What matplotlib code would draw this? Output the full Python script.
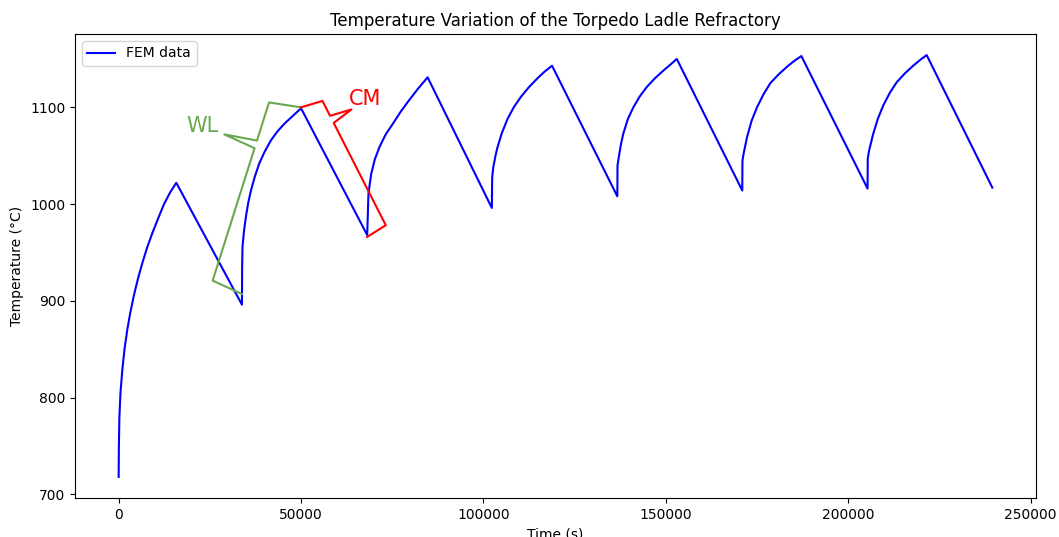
import numpy as np
import matplotlib
matplotlib.use("Agg")
import matplotlib.pyplot as plt

# heating phases (time in s, temperature in degC);
# cooling runs straight from each peak to the start of the next heating phase
heat_time = [
    [0, 60, 200, 500, 990, 1600, 2360, 3200, 4200, 5300, 6480, 7800,
     9230, 10800, 12440, 14100, 15800],
    [33800, 33850, 33950, 34350, 34890, 35500, 36260, 37300, 38540, 40000,
     41760, 43500, 45410, 47700, 50000],
    [68130, 68480, 69220, 70200, 71500, 73200, 75160, 77400, 79750, 82000,
     84700],
    [102300, 102400, 102700, 103300, 103800, 105000, 106600, 108300, 110300,
     112500, 114800, 116800, 118800],
    [136700, 136750, 137170, 137700, 138350, 139600, 141090, 142800, 144770,
     147000, 149330, 151200, 153000],
    [170950, 171000, 171310, 172240, 173500, 174990, 176700, 178640, 180900,
     183230, 185200, 187150],
    [205300, 205350, 205700, 206800, 208100, 209600, 211400, 213300, 215500,
     217800, 219700, 221500],
]
heat_temp = [
    [718, 750, 780, 805, 828, 850, 870, 888, 906, 923, 939, 955,
     970, 985, 1000, 1012, 1022],
    [896, 935, 956, 972, 987, 1001, 1014, 1028, 1042, 1054,
     1066, 1075, 1083, 1091, 1099],
    [968, 1011, 1031, 1046, 1059, 1072, 1083, 1096, 1108, 1119,
     1131],
    [996, 1028, 1038, 1050, 1058, 1073, 1088, 1100, 1111,
     1121, 1130, 1137, 1143],
    [1008, 1040, 1050, 1062, 1073, 1088, 1100, 1111, 1121,
     1130, 1138, 1144, 1150],
    [1014, 1045, 1052, 1069, 1086, 1100, 1113, 1125, 1134,
     1142, 1148, 1153],
    [1016, 1047, 1055, 1072, 1088, 1102, 1115, 1126, 1135,
     1143, 1149, 1154],
]
end_time = 239500
end_temp = 1017

# brace annotations: end points (time, temp)
wl_span = [(33800, 907), (50000, 1100)]
cm_span = [(50000, 1100), (68100, 966)]

time = [t for seg in heat_time for t in seg] + [end_time]
temp = [v for seg in heat_temp for v in seg] + [end_temp]


def brace(ax, p1, p2, width, tip, frac, color, label, ha, va,
          c1=4, c2=-5, offset=(0, 0)):
    # curly brace between two data points, built in pixel space
    tr = ax.transData
    a = tr.transform(p1)
    b = tr.transform(p2)
    d = b - a
    L = np.hypot(*d)
    u = d / L
    n = np.array([-u[1], u[0]])
    m = frac * L
    g = 4
    pts = [
        a,
        a + c1 * u + width * n,
        a + (m - g) * u + width * n,
        a + m * u + tip * n,
        a + (m + g) * u + width * n,
        b + c2 * u + width * n,
        b,
    ]
    data = tr.inverted().transform(np.array(pts))
    ax.plot(data[:, 0], data[:, 1], color=color, lw=1.5,
            scalex=False, scaley=False)
    ax.annotate(label, xy=data[3], xytext=offset, textcoords="offset points",
                color=color, fontsize=15, ha=ha, va=va)


fig = plt.figure(figsize=(10.59, 5.37), dpi=100)
ax = fig.add_subplot(111)
fig.subplots_adjust(left=0.0708, right=0.9783, top=0.9367, bottom=0.0726)

ax.plot(time, temp, color="blue", label="FEM data")
ax.set_title("Temperature Variation of the Torpedo Ladle Refractory")
ax.set_xlabel("Time (s)")
ax.set_ylabel("Temperature (°C)")
ax.legend(loc="upper left")
ax.get_xlim()
ax.get_ylim()

brace(ax, wl_span[0], wl_span[1], 32, 65, 0.75, "#6aa84f", "WL",
      ha="right", va="bottom", c1=4, c2=-5, offset=(-4, -1))
brace(ax, cm_span[0], cm_span[1], 22, 44, 0.17, "red", "CM",
      ha="left", va="bottom", c1=4, c2=-2, offset=(-2, 0))

fig.savefig("out.png", dpi=100)
